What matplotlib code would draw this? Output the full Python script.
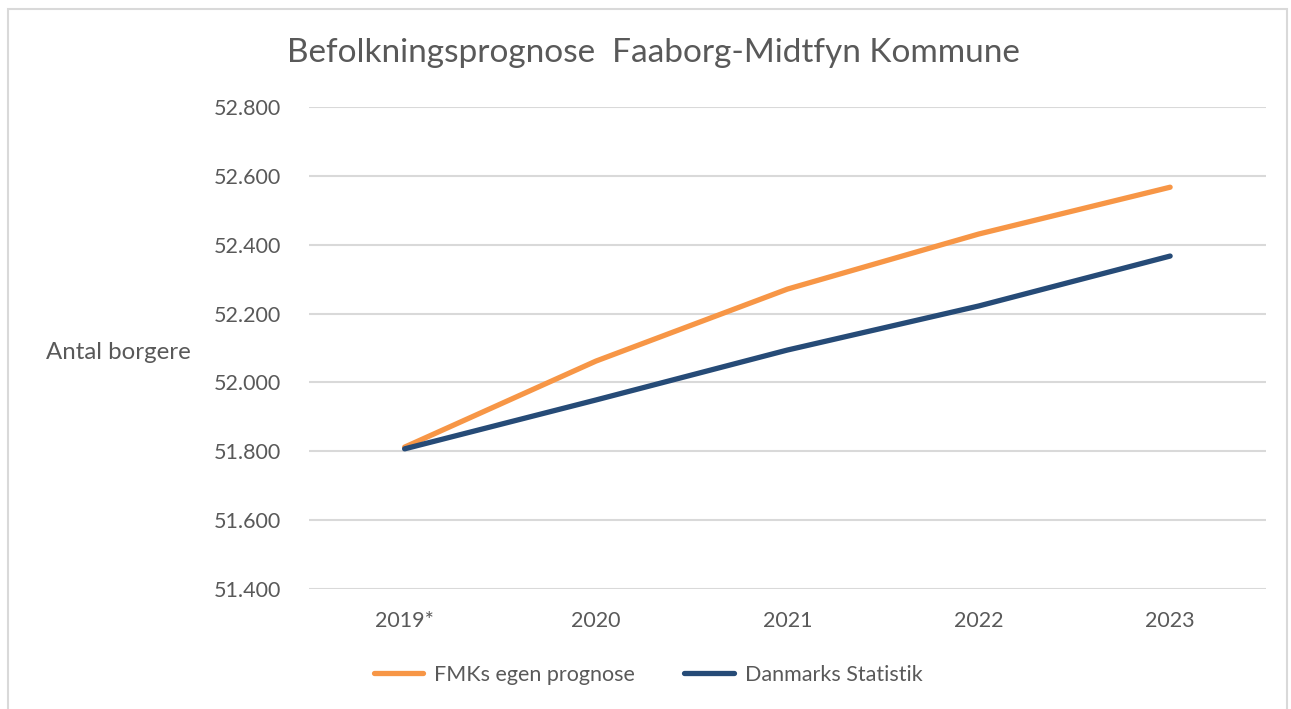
import matplotlib.pyplot as plt
from matplotlib.patches import Rectangle
from matplotlib.ticker import FuncFormatter

aar = ["2019*", "2020", "2021", "2022", "2023"]
fmk_prognose = [51812, 52062, 52271, 52431, 52567]
danmarks_statistik = [51807, 51949, 52094, 52222, 52367]

plt.rcParams['font.family'] = ['Lato', 'DejaVu Sans']
grey_txt = "#595959"

fig = plt.figure(figsize=(12.91, 7.09), dpi=100)
ax = fig.add_axes([0.2393, 0.1693, 0.7412, 0.6798])

x = range(len(aar))
ax.plot(x, fmk_prognose, color="#F79646", linewidth=3.8, solid_capstyle="round",
        label="FMKs egen prognose", zorder=3)
ax.plot(x, danmarks_statistik, color="#264B77", linewidth=3.8, solid_capstyle="round",
        label="Danmarks Statistik", zorder=3)

ax.set_xlim(-0.5, 4.5)
ax.set_ylim(51400, 52800)
ax.set_yticks(range(51400, 52801, 200))
ax.yaxis.set_major_formatter(FuncFormatter(lambda v, p: f"{int(v):,}".replace(",", ".")))
ax.set_xticks(list(x))
ax.set_xticklabels(aar)
ax.tick_params(length=0, labelsize=15.5, colors=grey_txt)
ax.tick_params(axis="y", pad=20)
ax.tick_params(axis="x", pad=16)
ax.grid(axis="y", color="#D9D9D9", linewidth=1.5)
for s in ax.spines.values():
    s.set_visible(False)

fig.text(0.506, 0.925, "Befolkningsprognose  Faaborg-Midtfyn Kommune", ha="center", va="center",
         fontsize=24, color=grey_txt)
fig.text(0.036, 0.503, "Antal borgere", ha="left", va="center", fontsize=17.3, color=grey_txt)

leg = fig.legend(loc="center", bbox_to_anchor=(0.502, 0.048), ncol=2, frameon=False,
                 fontsize=15.5, handlelength=2.3, handletextpad=0.5, columnspacing=2.3)
for t in leg.get_texts():
    t.set_color(grey_txt)

fig.patches.append(Rectangle((0.0065, -0.1), 0.9905, 1.088, transform=fig.transFigure,
                             fill=False, edgecolor="#D9D9D9", linewidth=1.5))

fig.savefig("out.png", dpi=100, facecolor="white")
